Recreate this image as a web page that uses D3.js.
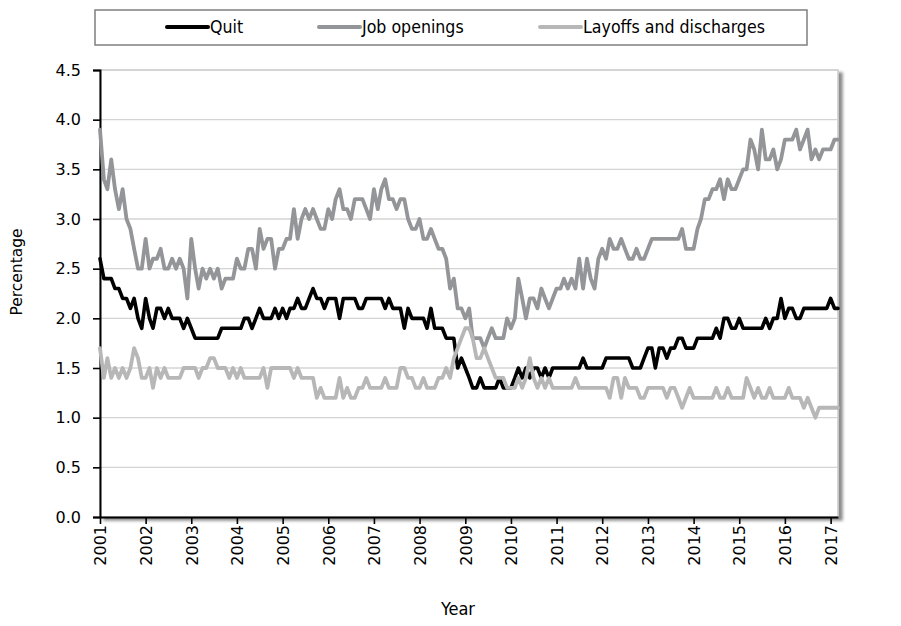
<!DOCTYPE html>
<html>
<head>
<meta charset="utf-8">
<script src="https://cdn.jsdelivr.net/npm/d3@7"></script>
<style>
  html, body { margin: 0; padding: 0; background: #fff; }
  svg { display: block; }
</style>
</head>
<body>
<svg id="chart" width="901" height="626"></svg>
<script>
// ---- Data (monthly, Jan 2001 – Mar 2017) ----
const startMonth = "2001-01";
const endMonth = "2017-03";

const quitRate = [
  2.6,2.4,2.4,2.4,2.3,2.3,2.2,2.2,2.1,2.2,2.0,1.9,
  2.2,2.0,1.9,2.1,2.1,2.0,2.1,2.0,2.0,2.0,1.9,2.0,
  1.9,1.8,1.8,1.8,1.8,1.8,1.8,1.8,1.9,1.9,1.9,1.9,
  1.9,1.9,2.0,2.0,1.9,2.0,2.1,2.0,2.0,2.0,2.1,2.0,
  2.1,2.0,2.1,2.1,2.2,2.1,2.1,2.2,2.3,2.2,2.2,2.1,
  2.2,2.2,2.2,2.0,2.2,2.2,2.2,2.2,2.1,2.1,2.2,2.2,
  2.2,2.2,2.2,2.1,2.2,2.1,2.1,2.1,1.9,2.1,2.0,2.0,
  2.0,2.0,1.9,2.1,1.9,1.9,1.9,1.8,1.8,1.8,1.5,1.6,
  1.5,1.4,1.3,1.3,1.4,1.3,1.3,1.3,1.3,1.4,1.3,1.3,
  1.3,1.4,1.5,1.4,1.5,1.4,1.5,1.5,1.4,1.5,1.4,1.5,
  1.5,1.5,1.5,1.5,1.5,1.5,1.5,1.6,1.5,1.5,1.5,1.5,
  1.5,1.6,1.6,1.6,1.6,1.6,1.6,1.6,1.5,1.5,1.5,1.6,
  1.7,1.7,1.5,1.7,1.7,1.6,1.7,1.7,1.8,1.8,1.7,1.7,
  1.7,1.8,1.8,1.8,1.8,1.8,1.9,1.8,2.0,2.0,1.9,1.9,
  2.0,1.9,1.9,1.9,1.9,1.9,1.9,2.0,1.9,2.0,2.0,2.2,
  2.0,2.1,2.1,2.0,2.0,2.1,2.1,2.1,2.1,2.1,2.1,2.1,
  2.2,2.1,2.1
];

const jobOpeningsRate = [
  3.9,3.4,3.3,3.6,3.3,3.1,3.3,3.0,2.9,2.7,2.5,2.5,
  2.8,2.5,2.6,2.6,2.7,2.5,2.5,2.6,2.5,2.6,2.5,2.2,
  2.8,2.5,2.3,2.5,2.4,2.5,2.4,2.5,2.3,2.4,2.4,2.4,
  2.6,2.5,2.5,2.7,2.7,2.5,2.9,2.7,2.8,2.8,2.5,2.7,
  2.7,2.8,2.8,3.1,2.8,3.0,3.1,3.0,3.1,3.0,2.9,2.9,
  3.1,3.0,3.2,3.3,3.1,3.1,3.0,3.2,3.2,3.2,3.1,3.0,
  3.3,3.1,3.3,3.4,3.2,3.2,3.1,3.2,3.2,3.0,2.9,2.9,
  3.0,2.8,2.8,2.9,2.8,2.7,2.7,2.6,2.3,2.4,2.1,2.1,
  2.0,2.1,1.8,1.8,1.8,1.7,1.8,1.9,1.8,1.8,1.8,2.0,
  1.9,2.0,2.4,2.2,2.0,2.2,2.2,2.1,2.3,2.2,2.1,2.2,
  2.3,2.3,2.4,2.3,2.4,2.3,2.6,2.3,2.6,2.4,2.3,2.6,
  2.7,2.6,2.8,2.7,2.7,2.8,2.7,2.6,2.6,2.7,2.6,2.6,
  2.7,2.8,2.8,2.8,2.8,2.8,2.8,2.8,2.8,2.9,2.7,2.7,
  2.7,2.9,3.0,3.2,3.2,3.3,3.3,3.4,3.2,3.4,3.3,3.3,
  3.4,3.5,3.5,3.8,3.7,3.5,3.9,3.6,3.6,3.7,3.5,3.6,
  3.8,3.8,3.8,3.9,3.7,3.8,3.9,3.6,3.7,3.6,3.7,3.7,
  3.7,3.8,3.8
];

const layoffsRate = [
  1.7,1.4,1.6,1.4,1.5,1.4,1.5,1.4,1.5,1.7,1.6,1.4,
  1.4,1.5,1.3,1.5,1.4,1.5,1.4,1.4,1.4,1.4,1.5,1.5,
  1.5,1.5,1.4,1.5,1.5,1.6,1.6,1.5,1.5,1.5,1.4,1.5,
  1.4,1.5,1.4,1.4,1.4,1.4,1.4,1.5,1.3,1.5,1.5,1.5,
  1.5,1.5,1.5,1.4,1.5,1.4,1.4,1.4,1.4,1.2,1.3,1.2,
  1.2,1.2,1.2,1.4,1.2,1.3,1.2,1.2,1.3,1.3,1.4,1.3,
  1.3,1.3,1.3,1.4,1.3,1.3,1.3,1.5,1.5,1.4,1.4,1.3,
  1.3,1.4,1.3,1.3,1.3,1.4,1.4,1.5,1.4,1.6,1.7,1.8,
  1.9,1.9,1.8,1.6,1.6,1.7,1.6,1.5,1.4,1.4,1.4,1.3,
  1.3,1.3,1.4,1.3,1.4,1.6,1.4,1.3,1.4,1.3,1.4,1.3,
  1.3,1.3,1.3,1.3,1.3,1.4,1.3,1.3,1.3,1.3,1.3,1.3,
  1.3,1.3,1.2,1.4,1.4,1.2,1.4,1.3,1.3,1.3,1.2,1.2,
  1.3,1.3,1.3,1.3,1.3,1.2,1.3,1.3,1.2,1.1,1.2,1.3,
  1.2,1.2,1.2,1.2,1.2,1.2,1.3,1.2,1.2,1.3,1.2,1.2,
  1.2,1.2,1.4,1.3,1.2,1.3,1.2,1.2,1.3,1.2,1.2,1.2,
  1.2,1.3,1.2,1.2,1.2,1.1,1.2,1.1,1.0,1.1,1.1,1.1,
  1.1,1.1,1.1
];

const yTicks = [0, 0.5, 1.0, 1.5, 2.0, 2.5, 3.0, 3.5, 4.0, 4.5];
const yearTicks = ["2001","2002","2003","2004","2005","2006","2007","2008","2009",
                   "2010","2011","2012","2013","2014","2015","2016","2017"];

const seriesNames = ["Quit", "Job openings", "Layoffs and discharges"];
const seriesColors = ["#000000", "#939598", "#b7b7b7"];

// ---- Build ----
const parseMonth = d3.timeParse("%Y-%m");
const months = d3.timeMonth.range(parseMonth(startMonth), d3.timeMonth.offset(parseMonth(endMonth), 1));
const seriesValues = [quitRate, jobOpeningsRate, layoffsRate];

const svg = d3.select("#chart");
const plot = { left: 100, right: 838, top: 70, bottom: 517 };

const x = d3.scaleTime()
  .domain([months[0], months[months.length - 1]])
  .range([plot.left, plot.right]);
const y = d3.scaleLinear().domain([0, 4.5]).range([plot.bottom, plot.top]);

const defs = svg.append("defs");
const f = defs.append("filter").attr("id", "shadow")
  .attr("x", "-5%").attr("y", "-5%").attr("width", "115%").attr("height", "115%");
f.append("feDropShadow").attr("dx", 4).attr("dy", 3).attr("stdDeviation", 1.8)
  .attr("flood-color", "#000").attr("flood-opacity", 0.45);

// plot area border with shadow
svg.append("rect")
  .attr("x", plot.left).attr("y", plot.top)
  .attr("width", plot.right - plot.left).attr("height", plot.bottom - plot.top)
  .attr("fill", "#fff").attr("stroke", "#c9c9c9").attr("stroke-width", 1.5)
  .attr("filter", "url(#shadow)");

// gridlines
svg.append("g").selectAll("line").data(yTicks.filter(v => v > 0)).join("line")
  .attr("x1", plot.left).attr("x2", plot.right)
  .attr("y1", d => y(d)).attr("y2", d => y(d))
  .attr("stroke", "#d4d4d4").attr("stroke-width", 1.4);

// Y axis
const yAxis = d3.axisLeft(y).tickValues(yTicks).tickFormat(d3.format(".1f"))
  .tickSize(7).tickPadding(12);
const gy = svg.append("g").attr("transform", `translate(${plot.left},0)`).call(yAxis);
gy.select(".domain").attr("stroke", "#000").attr("stroke-width", 2);
gy.selectAll(".tick line").attr("stroke", "#000").attr("stroke-width", 1.6);
gy.selectAll(".tick text").attr("font-family", "DejaVu Sans").attr("font-size", 16).attr("fill", "#000");

// X axis
const yearDates = yearTicks.map(s => d3.timeParse("%Y")(s));
const xAxis = d3.axisBottom(x).tickValues(yearDates).tickFormat(d3.timeFormat("%Y"))
  .tickSize(7).tickSizeOuter(0);
const gx = svg.append("g").attr("transform", `translate(0,${plot.bottom})`).call(xAxis);
gx.select(".domain").attr("stroke", "#000").attr("stroke-width", 2);
gx.selectAll(".tick line").attr("stroke", "#000").attr("stroke-width", 1.6);
gx.selectAll(".tick text")
  .attr("font-family", "DejaVu Sans").attr("font-size", 16).attr("fill", "#000")
  .attr("transform", "rotate(-90)")
  .attr("text-anchor", "end")
  .attr("x", -8).attr("y", 0).attr("dy", "0.36em");

// lines
const line = d3.line()
  .x((d, i) => x(months[i]))
  .y(d => y(d));

svg.append("g").selectAll("path").data(seriesValues).join("path")
  .attr("d", d => line(d))
  .attr("fill", "none")
  .attr("stroke", (d, i) => seriesColors[i])
  .attr("stroke-width", (d, i) => i === 0 ? 3.6 : 3.8)
  .attr("stroke-linejoin", "round")
  .attr("stroke-linecap", "round");

// axis titles
svg.append("text")
  .attr("transform", "translate(22,272) rotate(-90)")
  .attr("text-anchor", "middle")
  .attr("font-family", "DejaVu Sans").attr("font-size", 15.5)
  .text("Percentage");

const condensed = "'Liberation Sans Narrow', 'DejaVu Sans Condensed', 'Roboto', sans-serif";
svg.append("text")
  .attr("x", 458).attr("y", 615)
  .attr("text-anchor", "middle")
  .attr("font-family", condensed).attr("font-size", 18)
  .text("Year");

// legend
svg.append("rect")
  .attr("x", 95).attr("y", 10).attr("width", 712).attr("height", 35)
  .attr("fill", "#fff").attr("stroke", "#7f7f7f").attr("stroke-width", 1.5);

const legendX = [167, 319, 540];
const lg = svg.append("g").selectAll("g").data(seriesNames).join("g")
  .attr("transform", (d, i) => `translate(${legendX[i]},27)`);
lg.append("line").attr("x1", 0).attr("x2", 41).attr("y1", 0).attr("y2", 0)
  .attr("stroke", (d, i) => seriesColors[i]).attr("stroke-width", 4)
  .attr("stroke-linecap", "round");
lg.append("text").attr("x", 43).attr("y", 0).attr("dy", "0.35em")
  .attr("font-family", condensed).attr("font-size", 17.6)
  .text(d => d);
</script>
</body>
</html>
